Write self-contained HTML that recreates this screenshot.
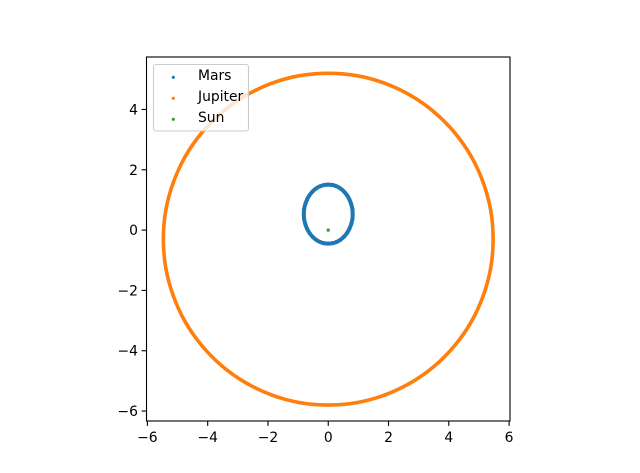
<!DOCTYPE html>
<html lang="en">
<head>
<meta charset="utf-8">
<title>Orbits of Mars and Jupiter</title>
<style>
html,body{margin:0;padding:0;background:#fff;}
svg{display:block;}
text{font-family:"DejaVu Sans","Liberation Sans",sans-serif;font-size:13.89px;fill:#000;}
</style>
</head>
<body>
<svg id="chart" xmlns="http://www.w3.org/2000/svg" width="640" height="473" viewBox="0 0 640 473"></svg>
<script>
const xTicks = [-6, -4, -2, 0, 2, 4, 6];
const yTicks = [-6, -4, -2, 0, 2, 4];
const seriesNames = ['Mars', 'Jupiter', 'Sun'];
const marsX = [0.81,0.80,0.76,0.70,0.62,0.52,0.405,0.277,0.141,0,-0.141,-0.277,-0.405,-0.52,-0.62,-0.70,-0.76,-0.80,-0.81,-0.80,-0.76,-0.70,-0.62,-0.52,-0.405,-0.277,-0.141,0,0.141,0.277,0.405,0.52,0.62,0.70,0.76,0.80];
const marsY = [0.53,0.70,0.865,1.02,1.16,1.28,1.379,1.451,1.495,1.51,1.495,1.451,1.379,1.28,1.16,1.02,0.865,0.70,0.53,0.36,0.195,0.04,-0.10,-0.22,-0.319,-0.391,-0.435,-0.45,-0.435,-0.391,-0.319,-0.22,-0.10,0.04,0.195,0.36];
const jupiterX = [5.47,5.39,5.14,4.74,4.19,3.52,2.74,1.87,0.95,0,-0.95,-1.87,-2.74,-3.52,-4.19,-4.74,-5.14,-5.39,-5.47,-5.39,-5.14,-4.74,-4.19,-3.52,-2.74,-1.87,-0.95,0,0.95,1.87,2.74,3.52,4.19,4.74,5.14,5.39];
const jupiterY = [-0.3,0.655,1.58,2.45,3.235,3.91,4.46,4.87,5.12,5.2,5.12,4.87,4.46,3.91,3.235,2.45,1.58,0.655,-0.3,-1.255,-2.18,-3.05,-3.835,-4.51,-5.06,-5.47,-5.72,-5.8,-5.72,-5.47,-5.06,-4.51,-3.835,-3.05,-2.18,-1.255];
const sunX = [0];
const sunY = [0];

const NS = 'http://www.w3.org/2000/svg';
const svg = document.getElementById('chart');
const plot = {left: 146.5, right: 510, top: 57, bottom: 421};
const xDomain = [-6.03, 6.03];
const yDomain = [-6.33, 5.74];
function sx(v) {
  return plot.left + (v - xDomain[0]) / (xDomain[1] - xDomain[0]) * (plot.right - plot.left);
}
function sy(v) {
  return plot.bottom - (v - yDomain[0]) / (yDomain[1] - yDomain[0]) * (plot.bottom - plot.top);
}
function make(tag, attrs, parent) {
  const el = document.createElementNS(NS, tag);
  for (const k in attrs) el.setAttribute(k, attrs[k]);
  (parent || svg).appendChild(el);
  return el;
}
function fmt(v) {
  return v < 0 ? '\u2212' + Math.abs(v) : String(v);
}
function closedCurve(xs, ys) {
  const n = xs.length;
  const px = xs.map(sx);
  const py = ys.map(sy);
  let d = 'M' + px[0].toFixed(2) + ' ' + py[0].toFixed(2);
  for (let i = 0; i < n; i++) {
    const a = (i - 1 + n) % n, b = (i + 1) % n, c = (i + 2) % n;
    const c1x = px[i] + (px[b] - px[a]) / 6;
    const c1y = py[i] + (py[b] - py[a]) / 6;
    const c2x = px[b] - (px[c] - px[i]) / 6;
    const c2y = py[b] - (py[c] - py[i]) / 6;
    d += 'C' + c1x.toFixed(2) + ' ' + c1y.toFixed(2) + ' ' + c2x.toFixed(2) + ' ' + c2y.toFixed(2) + ' ' + px[b].toFixed(2) + ' ' + py[b].toFixed(2);
  }
  return d + 'Z';
}

function drawOrbit(xs, ys, color, name, width) {
  const g = make('g', {});
  
  
  make('path', {d: closedCurve(xs, ys), fill: 'none', stroke: color, 'stroke-width': width}, g);
  for (let i = 0; i < xs.length; i++) {
    const dot = make('circle', {cx: sx(xs[i]), cy: sy(ys[i]), r: width / 2, fill: color}, g);
    
    
  }
}

drawOrbit(marsX, marsY, '#1f77b4', 'mars', 4);
drawOrbit(jupiterX, jupiterY, '#ff7f0e', 'jupiter', 3.6);

for (let i = 0; i < sunX.length; i++) {
  const sun = make('rect', {x: sx(sunX[i]) - 1.5, y: sy(sunY[i]) - 1.5, width: 3, height: 3, fill: '#2ca02c'});
  
  
}

const frame = make('rect', {x: plot.left, y: plot.top, width: plot.right - plot.left, height: plot.bottom - plot.top, fill: 'none', stroke: '#000', 'stroke-width': 1.1});



xTicks.forEach(function (t) {
  const tick = make('line', {x1: sx(t), x2: sx(t), y1: plot.bottom, y2: plot.bottom + 4.9, stroke: '#000', 'stroke-width': 1.1});
  
  
  const label = make('text', {x: sx(t), y: plot.bottom + 21, 'text-anchor': 'middle'});
  label.textContent = fmt(t);
  
  
});

yTicks.forEach(function (t) {
  const tick = make('line', {x1: plot.left - 4.9, x2: plot.left, y1: sy(t), y2: sy(t), stroke: '#000', 'stroke-width': 1.1});
  
  
  const label = make('text', {x: plot.left - 8.5, y: sy(t) + 5, 'text-anchor': 'end'});
  label.textContent = fmt(t);
  
  
});

const legend = make('g', {});


make('rect', {x: 153.5, y: 64.5, width: 95, height: 66.5, rx: 2.5, ry: 2.5, fill: '#fff', 'fill-opacity': 0.8, stroke: '#ccc', 'stroke-width': 1.1}, legend);
const legendColors = ['#1f77b4', '#ff7f0e', '#2ca02c'];
seriesNames.forEach(function (name, i) {
  const entry = make('g', {}, legend);
  
  
  const baseY = 77.3 + i * 21;
  make('circle', {cx: 173.3, cy: baseY, r: 1.6, fill: legendColors[i]}, entry);
  const label = make('text', {x: 198, y: baseY + 2.6}, entry);
  label.textContent = name;
});
</script>
</body>
</html>
